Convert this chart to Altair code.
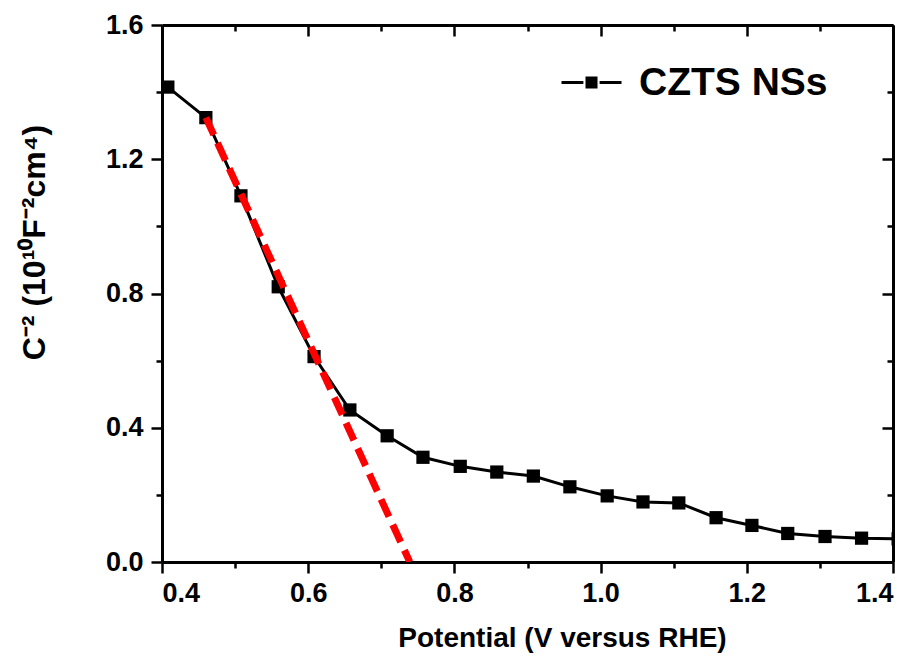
import altair as alt
import pandas as pd

# ---- data ----
potential = [0.408, 0.460, 0.508, 0.559, 0.608, 0.657, 0.708, 0.757, 0.808, 0.858,
             0.908, 0.958, 1.009, 1.058, 1.107, 1.158, 1.207, 1.256, 1.307, 1.357, 1.407]
c_minus2 = [1.415, 1.324, 1.091, 0.820, 0.612, 0.453, 0.376, 0.312, 0.285, 0.268,
            0.256, 0.224, 0.197, 0.179, 0.176, 0.132, 0.109, 0.085, 0.076, 0.071, 0.069]
series_name = "CZTS NSs"

fit_potential = [0.460, 0.739]
fit_c = [1.324, 0.0]

x_ticks = [0.4, 0.5, 0.6, 0.7, 0.8, 0.9, 1.0, 1.1, 1.2, 1.3, 1.4]
y_ticks = [0.0, 0.2, 0.4, 0.6, 0.8, 1.0, 1.2, 1.4, 1.6]

df = pd.DataFrame({"V": potential, "C": c_minus2, "series": [series_name] * len(potential)})
fit_df = pd.DataFrame({"V": fit_potential, "C": fit_c})

FONT = "Liberation Sans"

x_scale = alt.Scale(domain=[0.4, 1.4], nice=False, zero=False)
y_scale = alt.Scale(domain=[0.0, 1.6], nice=False, zero=False)

x_major = "abs(round(datum.value*10)) % 2 == 0"
y_major = "abs(round(datum.value*10)) % 4 == 0"

common_axis = dict(grid=False, domain=True, domainColor="black", domainWidth=3,
                   tickColor="black", tickWidth=2.5,
                   labelFont=FONT, labelFontWeight="bold", labelFontSize=27, labelColor="black",
                   titleFont=FONT, titleFontWeight="bold", titleColor="black")

x_bottom = alt.Axis(orient="bottom", values=x_ticks, title="Potential (V versus RHE)",
                    labelExpr=f"{x_major} ? format(datum.value, '.1f') : ''",
                    tickSize={"expr": f"{x_major} ? 11 : 6"},
                    labelPadding=7, titleFontSize=28,
                    titleX=400, titleY=76, titleBaseline="middle", titleAlign="center",
                    **common_axis)
y_left = alt.Axis(orient="left", values=y_ticks, title="C⁻² (10¹⁰F⁻²cm⁴)",
                  labelExpr=f"{y_major} ? format(datum.value, '.1f') : ''",
                  tickSize={"expr": f"{y_major} ? 11 : 6"},
                  labelPadding=8, titleFontSize=32,
                  titleX=-128, titleY=217, titleAngle=270, titleBaseline="middle",
                  titleAlign="center", **common_axis)
x_top = alt.Axis(orient="top", values=x_ticks, title=None, labels=False,
                 tickSize={"expr": f"{x_major} ? -11 : -6"}, **common_axis)
y_right = alt.Axis(orient="right", values=y_ticks, title=None, labels=False,
                   tickSize={"expr": f"{y_major} ? -11 : -6"}, **common_axis)

legend_symbol = ("M-1,0L-0.27,0M0.27,0L1,0"
                 "M-0.15,-0.15L0.15,-0.15L0.15,0.15L-0.15,0.15Z")

main = alt.Chart(df).mark_line(
    color="black", strokeWidth=3, clip=True,
    point=alt.OverlayMarkDef(shape="square", size=175, filled=True, color="black", opacity=1),
).encode(
    x=alt.X("V:Q", scale=x_scale, axis=x_bottom),
    y=alt.Y("C:Q", scale=y_scale, axis=y_left),
    color=alt.Color("series:N", scale=alt.Scale(domain=[series_name], range=["black"]),
                    legend=alt.Legend(orient="none", legendX=398, legendY=26, title=None,
                                      symbolType=legend_symbol, symbolSize=3600,
                                      symbolStrokeWidth=3, symbolFillColor="black",
                                      symbolStrokeColor="black", labelFont=FONT,
                                      labelFontWeight="bold", labelFontSize=39,
                                      labelLimit=500, labelColor="black", labelOffset=16)),
)

fit = alt.Chart(fit_df).mark_line(
    color="#ff0000", strokeWidth=7, strokeDash=[19, 9], clip=True
).encode(
    x=alt.X("V:Q", scale=x_scale, axis=x_top),
    y=alt.Y("C:Q", scale=y_scale, axis=y_right),
)

chart = alt.layer(main, fit).resolve_axis(x="independent", y="independent").properties(
    width=731, height=537,
    autosize=alt.AutoSizeParams(type="none"),
    padding={"left": 154, "top": 17, "right": 18, "bottom": 100},
).configure_view(stroke=None).configure(background="white")

chart.save("out.html", embed_options={"renderer": "svg", "actions": False})
